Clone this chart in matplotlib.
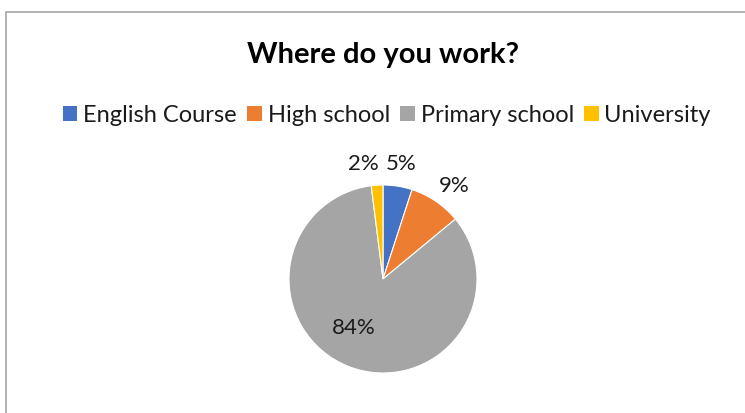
import numpy as np
import matplotlib.pyplot as plt
from matplotlib.patches import Rectangle, Patch

plt.rcParams['font.family'] = ['Lato', 'DejaVu Sans']

# survey answers
categories = ['English Course', 'High school', 'Primary school', 'University']
shares = [5, 9, 84, 2]
colors = ['#4472C4', '#ED7D31', '#A5A5A5', '#FFC000']

# how far out each percentage sits (in pie radii) and a small angular nudge
label_radius = [1.25, 1.26, 0.6, 1.25]
label_nudge = [0, -3, -10, 6]

W, H, DPI = 745, 414, 100
fig = plt.figure(figsize=(W / DPI, H / DPI), dpi=DPI)

# outer chart frame
fig.patches.append(Rectangle((6.5 / W, -0.1), 1.2, 1 - 12.5 / H + 0.1,
                             transform=fig.transFigure, fill=False,
                             edgecolor='#a6a6a6', linewidth=1.2))

fig.text(383 / W, 1 - 55 / H, 'Where do you work?', ha='center', va='center',
         fontsize=21, fontweight='bold', color='black')

# pie: center (383, 280) px, radius 94 px
cx, cy, r = 383, 280, 94
ax = fig.add_axes([(cx - r) / W, (H - cy - r) / H, 2 * r / W, 2 * r / H])
wedges, _ = ax.pie(shares, colors=colors, startangle=90, counterclock=False,
                   wedgeprops=dict(edgecolor='white', linewidth=0.8))
ax.set_xlim(-1, 1)
ax.set_ylim(-1, 1)
ax.axis('off')

total = sum(shares)
start = 90.0
for v, rf, nd in zip(shares, label_radius, label_nudge):
    span = 360.0 * v / total
    mid = np.deg2rad(start - span / 2 + nd)
    ax.text(rf * np.cos(mid), rf * np.sin(mid), f'{v}%', ha='center', va='center',
            fontsize=16, color='#1a1a1a', clip_on=False)
    start -= span

handles = [Patch(facecolor=c, edgecolor='none') for c in colors]
fig.legend(handles, categories, loc='center', bbox_to_anchor=(387 / W, 1 - 116 / H),
           ncol=4, frameon=False, fontsize=17, handlelength=0.6, handleheight=0.6,
           handletextpad=0.25, columnspacing=0.45, labelcolor='#1a1a1a')

fig.savefig('out.png', dpi=DPI)
